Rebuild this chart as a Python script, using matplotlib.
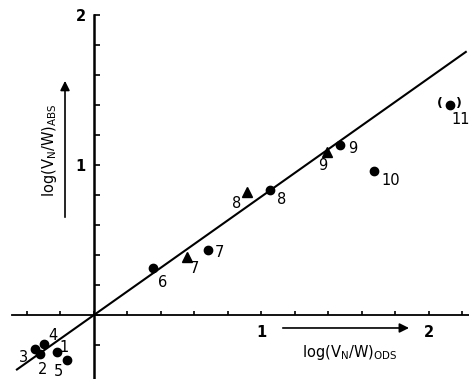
import numpy as np
import matplotlib
matplotlib.use("Agg")
import matplotlib.pyplot as plt

# ---- data ----
circle_labels = ["1", "2", "3", "4", "5", "6", "7", "8", "9", "10", "11"]
circle_x = [-0.22, -0.32, -0.35, -0.30, -0.16, 0.35, 0.68, 1.05, 1.47, 1.67, 2.125]
circle_y = [-0.25, -0.26, -0.23, -0.195, -0.30, 0.31, 0.43, 0.83, 1.13, 0.96, 1.40]

tri_labels = ["7", "8", "9"]
tri_x = [0.555, 0.913, 1.39]
tri_y = [0.387, 0.82, 1.087]

line_x = [-0.46, 2.22]
line_slope = 0.79

x_ticks = np.round(np.arange(-0.4, 2.21, 0.2), 1)
y_ticks = np.round(np.arange(-0.2, 2.01, 0.2), 1)
x_ticklabels = {1.0: "1", 2.0: "2"}
y_ticklabels = {1.0: "1", 2.0: "2"}

# ---- style (label offsets in pixels) ----
circle_offsets = [(7, 5), (2, -16), (-12, -8), (9, 9), (-9, -12), (10, -14),
                  (12, -2), (12, -9), (13, -3), (17, -10), (11, -15)]
tri_offsets = [(8, -12), (-10, -12), (-4, -14)]

fig = plt.figure(figsize=(4.69, 3.79), dpi=100)
ax = fig.add_axes([0, 0, 1, 1])
ax.set_xlim(-0.561, 2.239)
ax.set_ylim(-0.4267, 2.1)

for s in ["top", "right"]:
    ax.spines[s].set_visible(False)
ax.spines["left"].set_position(("data", 0))
ax.spines["bottom"].set_position(("data", 0))
ax.spines["left"].set_bounds(-0.43, 2.0)
ax.spines["bottom"].set_bounds(-0.49, 2.24)
ax.spines["left"].set_linewidth(1.8)
ax.spines["bottom"].set_linewidth(1.3)

ax.set_xticks(x_ticks)
ax.set_xticklabels([x_ticklabels.get(float(t), "") for t in x_ticks])
ax.set_yticks(y_ticks)
ax.set_yticklabels([y_ticklabels.get(float(t), "") for t in y_ticks])
ax.tick_params(axis="x", direction="in", length=3, width=1.2, pad=7,
               labelsize=10.5)
ax.tick_params(axis="y", direction="in", length=4, width=1.2, pad=6,
               labelsize=10.5)
for lab in ax.get_xticklabels() + ax.get_yticklabels():
    lab.set_fontweight("bold")

# fitted line
lx = np.array(line_x)
ax.plot(lx, line_slope * lx, color="black", lw=1.5, zorder=2)

# markers
ax.plot(circle_x, circle_y, "o", color="black", ms=6, zorder=3, ls="none")
ax.plot(tri_x, tri_y, "^", color="black", ms=6.5, zorder=3, ls="none")

for lab, x, y, off in zip(circle_labels, circle_x, circle_y, circle_offsets):
    ax.annotate(lab, (x, y), xytext=off, textcoords="offset pixels",
                ha="center", va="center", fontsize=10.5)
for lab, x, y, off in zip(tri_labels, tri_x, tri_y, tri_offsets):
    ax.annotate(lab, (x, y), xytext=off, textcoords="offset pixels",
                ha="center", va="center", fontsize=10.5)
# parentheses around point 11
ax.annotate("(   )", (circle_x[-1], circle_y[-1]), xytext=(0, 1),
            textcoords="offset pixels", ha="center", va="center",
            fontsize=9, fontweight="bold")

# axis labels with arrows
ax.annotate("", xy=(0.1386, 0.794), xytext=(0.1386, 0.4195),
            xycoords="axes fraction", textcoords="axes fraction",
            arrowprops=dict(arrowstyle="-|>", color="black", lw=1.2,
                            mutation_scale=14))
ax.text(0.1066, 0.604, r"$\mathrm{log(V_N/W)_{ABS}}$", rotation=90,
        transform=ax.transAxes, ha="center", va="center", fontsize=10.5)

ax.annotate("", xy=(0.878, 0.1346), xytext=(0.597, 0.1346),
            xycoords="axes fraction", textcoords="axes fraction",
            arrowprops=dict(arrowstyle="-|>", color="black", lw=1.2,
                            mutation_scale=14))
ax.text(0.746, 0.071, r"$\mathrm{log(V_N/W)_{ODS}}$",
        transform=ax.transAxes, ha="center", va="center", fontsize=10.5)

fig.savefig("out.png", dpi=100)
